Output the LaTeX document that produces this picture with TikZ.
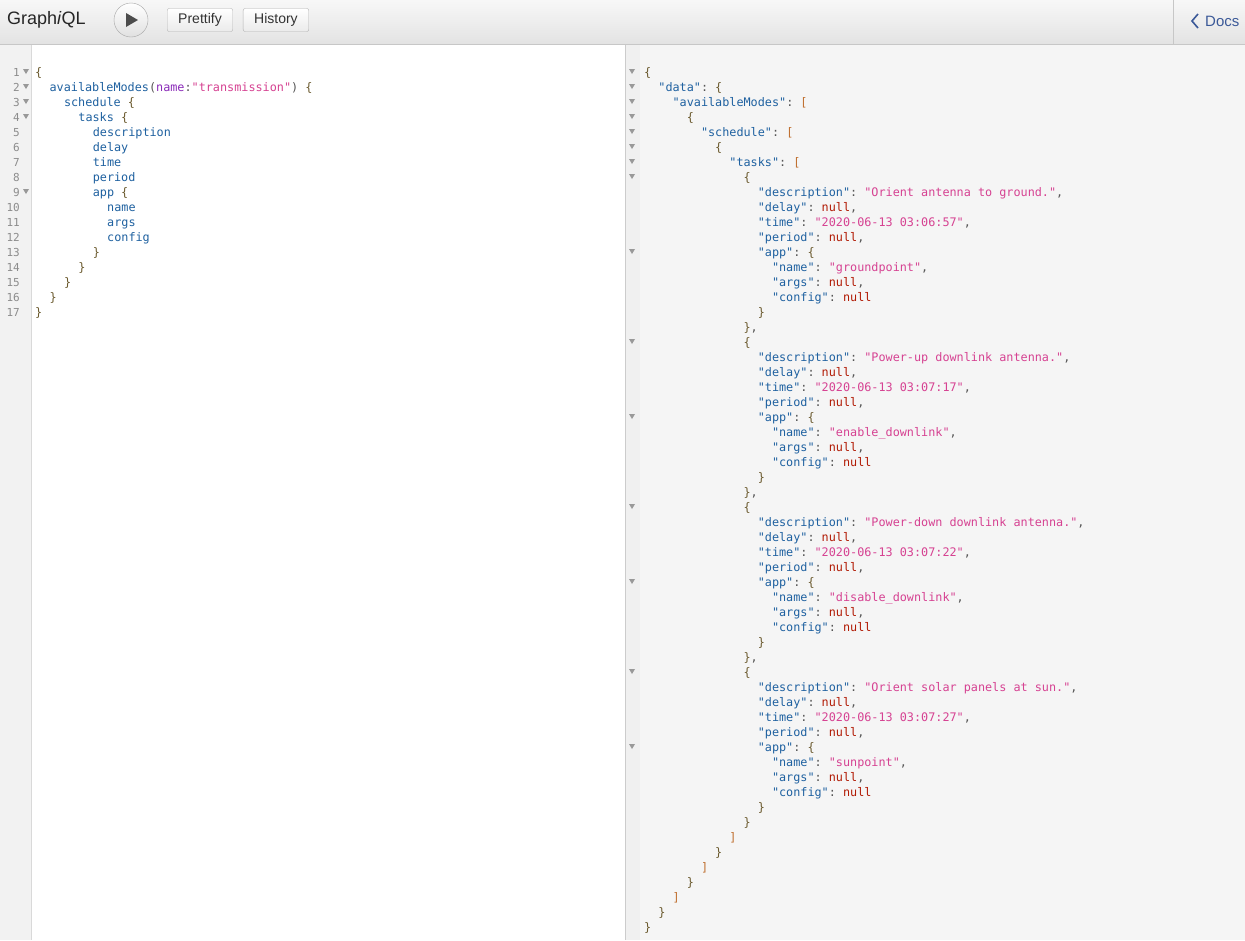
\documentclass[tikz,border=0pt]{standalone}
\usepackage{fontspec}
\setmainfont{Liberation Sans}
\setmonofont{DejaVu Sans Mono}
\usetikzlibrary{positioning}
\definecolor{keyc}{HTML}{1F61A0}
\definecolor{strc}{HTML}{D64292}
\definecolor{nullc}{HTML}{B11A04}
\definecolor{punc}{HTML}{555555}
\definecolor{brkc}{HTML}{C07030}
\definecolor{bracec}{HTML}{6B5A2E}
\definecolor{attrc}{HTML}{8B2BB9}
\definecolor{docc}{HTML}{3B5998}
\newcommand\codefont{\fontsize{11.8}{15}\selectfont\ttfamily}
\newcommand\jk[1]{\textcolor{keyc}{"#1"}\textcolor{punc}{:} }
\newcommand\js[1]{\textcolor{strc}{"#1"}}
\newcommand\jn{\textcolor{nullc}{null}}
\newcommand\jc{\textcolor{punc}{,}}
\newcommand\jo{\textcolor{bracec}{\{}}
\newcommand\jx{\textcolor{bracec}{\}}}
\newcommand\ja{\textcolor{brkc}{[}}
\newcommand\jz{\textcolor{brkc}{]}}
\newcommand\fieldc[1]{\textcolor{keyc}{#1}}
\tikzset{
  codeline/.style={anchor=base west, inner sep=0pt, font=\codefont},
  lineno/.style={anchor=base east, inner sep=0pt, text=black!45, font=\fontsize{11}{13}\selectfont\ttfamily},
  foldmark/.style={fill=black!40, draw=none},
  toolbtn/.style={draw=black!30, rounded corners=2pt, top color=white, bottom color=black!8,
    minimum height=23pt, inner xsep=11pt, font=\fontsize{14}{16}\selectfont, text=black!80}
}
\begin{document}
\begin{tikzpicture}[x=1pt,y=-1pt]
\useasboundingbox (0,0) rectangle (1245,940);
% panes
\fill[white] (0,0) rectangle (1245,940);
\fill[black!4] (626,44) rectangle (1245,940);
\fill[black!5] (0,44) rectangle (31,940);
\draw[black!15] (31,44) -- (31,940);
\draw[black!20] (625.5,44) -- (625.5,940);
\fill[black!6] (626,44) rectangle (640,940);
% toolbar
\shade[top color=black!3, bottom color=black!11] (0,0) rectangle (1245,44);
\draw[black!22] (0,44) -- (1245,44);
\draw[black!22] (1173,0) -- (1173,44);
\node[anchor=west, inner sep=0pt, font=\fontsize{18}{20}\selectfont, text=black!85] (title) at (7,20) {Graph\textit{i}QL};
\node[circle, draw=black!35, top color=white, bottom color=black!12, minimum size=34pt, inner sep=0pt] (run) at (131,20) {};
\fill[black!70] ([xshift=-5pt,yshift=-7pt]run.center) -- ([xshift=-5pt,yshift=7pt]run.center) -- ([xshift=7pt]run.center) -- cycle;
\node[toolbtn] (prettify) at (200,20) {Prettify};
\node[toolbtn, right=10pt of prettify] (history) {History};
\node[anchor=west, inner sep=0pt, font=\fontsize{15}{17}\selectfont, text=docc] (docs) at (1205,21) {Docs};
\draw[docc, line width=1.6pt] ([xshift=-7pt,yshift=-7pt]docs.west) -- ([xshift=-13pt]docs.west) -- ([xshift=-7pt,yshift=7pt]docs.west);
% query editor
\foreach \n in {1,...,17} \node[lineno] (qn\n) at (20,{76+15*(\n-1)}) {\n};
\foreach \n in {1,2,3,4,9} \fill[foldmark] (23,{69+15*(\n-1)}) -- (29,{69+15*(\n-1)}) -- (26,{74+15*(\n-1)}) -- cycle;
\foreach \i/\t [count=\n] in {
  0/{\jo},
  1/{\fieldc{availableModes}\textcolor{punc}{(}\textcolor{attrc}{name}\textcolor{punc}{:}\js{transmission}\textcolor{punc}{)} \jo},
  2/{\fieldc{schedule} \jo},
  3/{\fieldc{tasks} \jo},
  4/{\fieldc{description}},
  4/{\fieldc{delay}},
  4/{\fieldc{time}},
  4/{\fieldc{period}},
  4/{\fieldc{app} \jo},
  5/{\fieldc{name}},
  5/{\fieldc{args}},
  5/{\fieldc{config}},
  4/{\jx},
  3/{\jx},
  2/{\jx},
  1/{\jx},
  0/{\jx}}
  \node[codeline] (q\n) at ({35+14.4*\i},{76+15*(\n-1)}) {\t};
% result viewer
\foreach \n in {1,...,8,13,19,24,30,35,41,46}
  \fill[foldmark] (629,{69+15*(\n-1)}) -- (635,{69+15*(\n-1)}) -- (632,{74+15*(\n-1)}) -- cycle;
\foreach \i/\t [count=\n] in {
  0/{\jo},
  1/{\jk{data}\jo},
  2/{\jk{availableModes}\ja},
  3/{\jo},
  4/{\jk{schedule}\ja},
  5/{\jo},
  6/{\jk{tasks}\ja},
  7/{\jo},
  8/{\jk{description}\js{Orient antenna to ground.}\jc},
  8/{\jk{delay}\jn\jc},
  8/{\jk{time}\js{2020-06-13 03:06:57}\jc},
  8/{\jk{period}\jn\jc},
  8/{\jk{app}\jo},
  9/{\jk{name}\js{groundpoint}\jc},
  9/{\jk{args}\jn\jc},
  9/{\jk{config}\jn},
  8/{\jx},
  7/{\jx\jc},
  7/{\jo},
  8/{\jk{description}\js{Power-up downlink antenna.}\jc},
  8/{\jk{delay}\jn\jc},
  8/{\jk{time}\js{2020-06-13 03:07:17}\jc},
  8/{\jk{period}\jn\jc},
  8/{\jk{app}\jo},
  9/{\jk{name}\js{enable\_downlink}\jc},
  9/{\jk{args}\jn\jc},
  9/{\jk{config}\jn},
  8/{\jx},
  7/{\jx\jc},
  7/{\jo},
  8/{\jk{description}\js{Power-down downlink antenna.}\jc},
  8/{\jk{delay}\jn\jc},
  8/{\jk{time}\js{2020-06-13 03:07:22}\jc},
  8/{\jk{period}\jn\jc},
  8/{\jk{app}\jo},
  9/{\jk{name}\js{disable\_downlink}\jc},
  9/{\jk{args}\jn\jc},
  9/{\jk{config}\jn},
  8/{\jx},
  7/{\jx\jc},
  7/{\jo},
  8/{\jk{description}\js{Orient solar panels at sun.}\jc},
  8/{\jk{delay}\jn\jc},
  8/{\jk{time}\js{2020-06-13 03:07:27}\jc},
  8/{\jk{period}\jn\jc},
  8/{\jk{app}\jo},
  9/{\jk{name}\js{sunpoint}\jc},
  9/{\jk{args}\jn\jc},
  9/{\jk{config}\jn},
  8/{\jx},
  7/{\jx},
  6/{\jz},
  5/{\jx},
  4/{\jz},
  3/{\jx},
  2/{\jz},
  1/{\jx},
  0/{\jx}}
  \node[codeline] (r\n) at ({644+14.2*\i},{76+15*(\n-1)}) {\t};
\end{tikzpicture}
\end{document}
